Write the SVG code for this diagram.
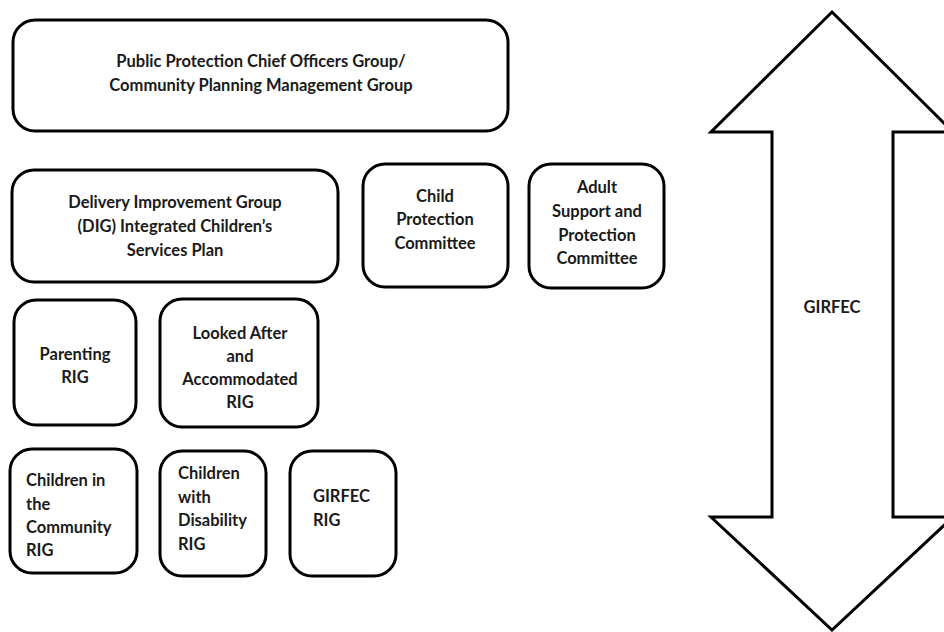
<svg xmlns="http://www.w3.org/2000/svg" width="944" height="632" viewBox="0 0 944 632">
<style>
.box{fill:#fff;stroke:#000;stroke-width:3}
.t{font-family:Lato,"Liberation Sans",sans-serif;font-weight:bold;font-size:16.5px;fill:#1a1a1a}
.c{text-anchor:middle}
</style>
<rect width="944" height="632" fill="#fff"/>
<g id="arrow">
<polygon class="box" stroke-width="2.5" points="832,12 953,132 893,132 893,517 953,517 832,630 711,517 772,517 772,132 711,132"/>
<text class="t c" x="832" y="313">GIRFEC</text>
</g>
<g id="ppcog">
<rect class="box" x="13" y="20" width="495" height="111" rx="22"/>
<text class="t c" x="261" y="67">Public Protection Chief Officers Group/</text>
<text class="t c" x="261" y="91">Community Planning Management Group</text>
</g>
<g id="dig">
<rect class="box" x="12" y="170" width="326" height="112" rx="22"/>
<text class="t c" x="175" y="208">Delivery Improvement Group</text>
<text class="t c" x="175" y="232">(DIG) Integrated Children’s</text>
<text class="t c" x="175" y="256">Services Plan</text>
</g>
<g id="cpc">
<rect class="box" x="363" y="164" width="145" height="123" rx="22"/>
<text class="t c" x="435" y="202">Child</text>
<text class="t c" x="435" y="225">Protection</text>
<text class="t c" x="435" y="249">Committee</text>
</g>
<g id="aspc">
<rect class="box" x="529" y="164" width="135" height="124" rx="22"/>
<text class="t c" x="597" y="193">Adult</text>
<text class="t c" x="597" y="217">Support and</text>
<text class="t c" x="597" y="241">Protection</text>
<text class="t c" x="597" y="264">Committee</text>
</g>
<g id="parenting">
<rect class="box" x="14" y="300" width="122" height="125" rx="22"/>
<text class="t c" x="75" y="360">Parenting</text>
<text class="t c" x="75" y="383">RIG</text>
</g>
<g id="lookedafter">
<rect class="box" x="160" y="299" width="158" height="128" rx="22"/>
<text class="t c" x="240" y="339">Looked After</text>
<text class="t c" x="240" y="362">and</text>
<text class="t c" x="240" y="385">Accommodated</text>
<text class="t c" x="240" y="408">RIG</text>
</g>
<g id="community">
<rect class="box" x="10" y="449" width="127" height="124" rx="22"/>
<text class="t" x="26" y="486">Children in</text>
<text class="t" x="26" y="510">the</text>
<text class="t" x="26" y="533">Community</text>
<text class="t" x="26" y="556">RIG</text>
</g>
<g id="disability">
<rect class="box" x="160" y="451" width="106" height="125" rx="22"/>
<text class="t" x="178" y="479">Children</text>
<text class="t" x="178" y="503">with</text>
<text class="t" x="178" y="526">Disability</text>
<text class="t" x="178" y="550">RIG</text>
</g>
<g id="girfecrig">
<rect class="box" x="290" y="451" width="106" height="125" rx="22"/>
<text class="t" x="313" y="502">GIRFEC</text>
<text class="t" x="313" y="526">RIG</text>
</g>
<g id="connectors"></g>
</svg>
